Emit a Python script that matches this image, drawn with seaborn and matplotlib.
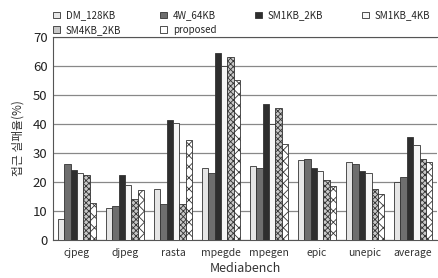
import matplotlib
matplotlib.use("Agg")
import matplotlib.pyplot as plt
from matplotlib.ticker import FixedLocator
import seaborn as sns
import pandas as pd

benchmarks = ["cjpeg", "djpeg", "rasta", "mpegde", "mpegen", "epic", "unepic", "average"]
schemes = ["DM_128KB", "4W_64KB", "SM1KB_2KB", "SM1KB_4KB", "SM4KB_2KB", "proposed"]

dm_128kb = [7.1, 10.9, 17.4, 24.6, 25.4, 27.5, 26.9, 19.8]
w4_64kb = [26.3, 11.7, 12.2, 23.1, 24.8, 27.9, 26.1, 21.7]
sm1kb_2kb = [24.0, 22.5, 41.3, 64.4, 46.7, 24.6, 23.8, 35.3]
sm1kb_4kb = [22.9, 18.8, 40.4, 60.0, 40.0, 23.8, 22.9, 32.8]
sm4kb_2kb = [22.3, 14.0, 12.2, 63.0, 45.5, 20.5, 17.6, 27.9]
proposed = [12.6, 17.2, 34.3, 55.0, 33.2, 18.4, 15.8, 26.7]

series = [dm_128kb, w4_64kb, sm1kb_2kb, sm1kb_4kb, sm4kb_2kb, proposed]
rows = []
for name, vals in zip(schemes, series):
    for b, v in zip(benchmarks, vals):
        rows.append({"bench": b, "scheme": name, "rate": v})
df = pd.DataFrame(rows)

face = ["#e6e6e6", "#6e6e6e", "#2e2e2e", "#f6f6f6", "#c8c8c8", "#ffffff"]
hatch = [None, None, None, None, "xxxxxx", "xxx"]

sns.set_style("white")
plt.rcParams["font.family"] = ["Noto Sans CJK KR", "DejaVu Sans"]
plt.rcParams["hatch.linewidth"] = 0.6
plt.rcParams["hatch.color"] = "#555555"

fig = plt.figure(figsize=(4.38, 2.78), dpi=100)
ax = fig.add_axes([0.121, 0.137, 0.877, 0.731])

sns.barplot(data=df, x="bench", y="rate", hue="scheme", order=benchmarks,
            hue_order=schemes, palette=face, width=0.8, edgecolor="#333333",
            linewidth=0.6, saturation=1, ax=ax, zorder=3)

for cont, h in zip(ax.containers, hatch):
    for bar in cont:
        if h:
            bar.set_hatch(h)

ax.set_ylim(0, 70)
ax.set_yticks(range(0, 71, 10))
ax.set_xlim(-0.5, len(benchmarks) - 0.5)
ax.yaxis.grid(True, color="#888888", linewidth=0.9, zorder=0)
ax.set_axisbelow(True)
for s in ["left", "bottom", "top"]:
    ax.spines[s].set_color("#555555")
    ax.spines[s].set_linewidth(0.8)
ax.spines["right"].set_visible(False)

ax.tick_params(axis="y", length=0, labelsize=9.5, pad=4, labelcolor="#222222")
ax.tick_params(axis="x", length=0, labelsize=7.5, pad=6, labelcolor="#333333")
ax.xaxis.set_minor_locator(FixedLocator([i + 0.5 for i in range(len(benchmarks) - 1)]))
ax.tick_params(axis="x", which="minor", direction="in", length=3, width=0.6, color="#555555")

ax.set_xlabel("Mediabench", fontsize=9, color="#333333", labelpad=3)
ax.set_ylabel("접근 실패율(%)", fontsize=8.5, color="#333333", labelpad=6)

# row-major legend: columns get [0,4], [1,5], [2], [3]
handles, labels = ax.get_legend_handles_labels()
order = [0, 4, 1, 5, 2, 3]
ax.legend([handles[i] for i in order], [labels[i] for i in order], ncol=4,
          loc="lower left", bbox_to_anchor=(-0.01, 0.99),
          frameon=False, fontsize=7, handlelength=0.7, handleheight=0.7,
          handletextpad=0.6, columnspacing=4.0, borderaxespad=0, labelspacing=0.45)

fig.savefig("out.png", dpi=100)
